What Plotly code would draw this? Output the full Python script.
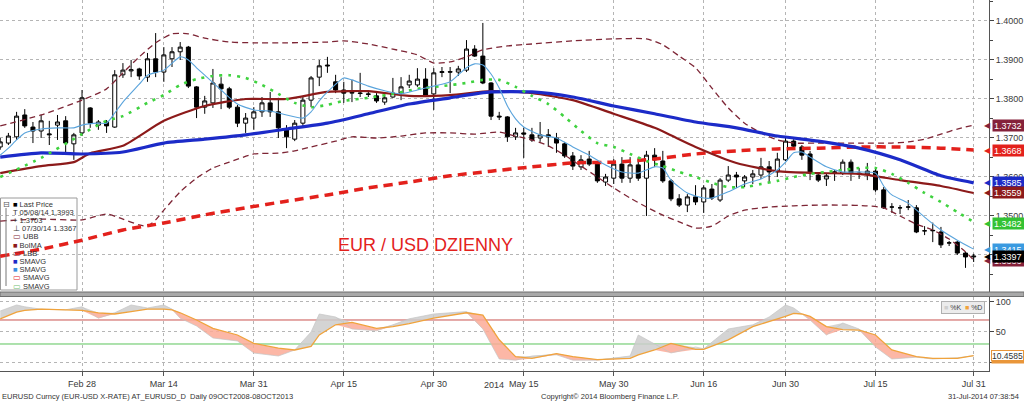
import pandas as pd
import plotly.graph_objects as go
from plotly.subplots import make_subplots

# ---------------- data ----------------
dates = pd.bdate_range("2014-02-14", "2014-07-31")  # 120 trading days

opens = [1.3677, 1.3687, 1.3703, 1.3759, 1.3728, 1.3718, 1.3708, 1.3733, 1.3744, 1.3685,
         1.3713, 1.3777, 1.3733, 1.3741, 1.3728, 1.3862, 1.3872, 1.3877, 1.3856, 1.3903,
         1.3869, 1.3903, 1.3921, 1.3933, 1.3831, 1.3779, 1.3790, 1.3838, 1.3826, 1.3779,
         1.3738, 1.3751, 1.3767, 1.3790, 1.3767, 1.3721, 1.3697, 1.3738, 1.3797, 1.3856,
         1.3887, 1.3844, 1.3823, 1.3815, 1.3814, 1.3813, 1.3808, 1.3792, 1.3805, 1.3815,
         1.3836, 1.3836, 1.3851, 1.3813, 1.3868, 1.3870, 1.3869, 1.3874, 1.3928, 1.3910,
         1.3841, 1.3756, 1.3754, 1.3703, 1.3713, 1.3708, 1.3700, 1.3708, 1.3700, 1.3685,
         1.3654, 1.3626, 1.3646, 1.3633, 1.3587, 1.3597, 1.3633, 1.3597, 1.3631, 1.3597,
         1.3656, 1.3641, 1.3590, 1.3544, 1.3528, 1.3549, 1.3536, 1.3569, 1.3541, 1.3592,
         1.3605, 1.3590, 1.3600, 1.3605, 1.3626, 1.3613, 1.3644, 1.3692, 1.3677, 1.3659,
         1.3605, 1.3595, 1.3610, 1.3610, 1.3638, 1.3610, 1.3608, 1.3615, 1.3567, 1.3523,
         1.3521, 1.3523, 1.3521, 1.3462, 1.3462, 1.3459, 1.3431, 1.3433, 1.3405, 1.3395]
highs = [1.3700, 1.3713, 1.3767, 1.3774, 1.3741, 1.3759, 1.3744, 1.3759, 1.3756, 1.3713,
         1.3823, 1.3779, 1.3746, 1.3746, 1.3874, 1.3892, 1.3900, 1.3880, 1.3918, 1.3969,
         1.3933, 1.3933, 1.3946, 1.3936, 1.3833, 1.3808, 1.3877, 1.3856, 1.3831, 1.3785,
         1.3764, 1.3779, 1.3805, 1.3818, 1.3803, 1.3733, 1.3746, 1.3805, 1.3859, 1.3900,
         1.3908, 1.3862, 1.3844, 1.3849, 1.3867, 1.3820, 1.3815, 1.3815, 1.3854, 1.3856,
         1.3862, 1.3879, 1.3879, 1.3879, 1.3882, 1.3882, 1.3885, 1.3951, 1.3938, 1.3995,
         1.3843, 1.3767, 1.3756, 1.3726, 1.3726, 1.3726, 1.3741, 1.3723, 1.3713, 1.3690,
         1.3664, 1.3656, 1.3667, 1.3636, 1.3608, 1.3646, 1.3651, 1.3651, 1.3651, 1.3667,
         1.3674, 1.3667, 1.3595, 1.3556, 1.3556, 1.3579, 1.3579, 1.3582, 1.3597, 1.3628,
         1.3613, 1.3605, 1.3618, 1.3649, 1.3641, 1.3662, 1.3700, 1.3697, 1.3682, 1.3667,
         1.3610, 1.3610, 1.3618, 1.3645, 1.3645, 1.3623, 1.3636, 1.3620, 1.3574, 1.3533,
         1.3528, 1.3541, 1.3528, 1.3474, 1.3483, 1.3472, 1.3436, 1.3436, 1.3408, 1.3403]
lows = [1.3670, 1.3682, 1.3695, 1.3726, 1.3687, 1.3700, 1.3682, 1.3695, 1.3662, 1.3644,
        1.3705, 1.3726, 1.3721, 1.3713, 1.3726, 1.3854, 1.3856, 1.3849, 1.3844, 1.3856,
        1.3844, 1.3882, 1.3900, 1.3828, 1.3751, 1.3762, 1.3777, 1.3774, 1.3774, 1.3728,
        1.3713, 1.3721, 1.3754, 1.3754, 1.3700, 1.3674, 1.3692, 1.3728, 1.3779, 1.3833,
        1.3867, 1.3815, 1.3790, 1.3792, 1.3805, 1.3805, 1.3790, 1.3785, 1.3803, 1.3797,
        1.3828, 1.3831, 1.3805, 1.3772, 1.3856, 1.3815, 1.3859, 1.3869, 1.3908, 1.3838,
        1.3746, 1.3746, 1.3690, 1.3695, 1.3649, 1.3690, 1.3690, 1.3677, 1.3662, 1.3649,
        1.3618, 1.3618, 1.3628, 1.3585, 1.3577, 1.3582, 1.3585, 1.3585, 1.3590, 1.3500,
        1.3626, 1.3585, 1.3538, 1.3523, 1.3510, 1.3528, 1.3508, 1.3541, 1.3536, 1.3587,
        1.3572, 1.3574, 1.3582, 1.3595, 1.3587, 1.3600, 1.3641, 1.3674, 1.3644, 1.3592,
        1.3587, 1.3577, 1.3590, 1.3605, 1.3590, 1.3595, 1.3592, 1.3562, 1.3518, 1.3508,
        1.3505, 1.3515, 1.3456, 1.3451, 1.3433, 1.3418, 1.3423, 1.3400, 1.3367, 1.3382]
closes = [1.3690, 1.3705, 1.3756, 1.3731, 1.3718, 1.3744, 1.3710, 1.3741, 1.3687, 1.3708,
          1.3803, 1.3738, 1.3741, 1.3731, 1.3862, 1.3874, 1.3875, 1.3859, 1.3903, 1.3869,
          1.3913, 1.3921, 1.3933, 1.3833, 1.3779, 1.3795, 1.3841, 1.3826, 1.3779, 1.3738,
          1.3751, 1.3767, 1.3790, 1.3767, 1.3726, 1.3703, 1.3738, 1.3797, 1.3854, 1.3885,
          1.3885, 1.3823, 1.3815, 1.3817, 1.3815, 1.3812, 1.3795, 1.3803, 1.3815, 1.3831,
          1.3846, 1.3851, 1.3810, 1.3867, 1.3870, 1.3869, 1.3877, 1.3928, 1.3910, 1.3841,
          1.3756, 1.3754, 1.3703, 1.3713, 1.3710, 1.3695, 1.3708, 1.3703, 1.3687, 1.3654,
          1.3628, 1.3644, 1.3633, 1.3590, 1.3600, 1.3633, 1.3597, 1.3631, 1.3597, 1.3656,
          1.3644, 1.3590, 1.3544, 1.3528, 1.3549, 1.3536, 1.3572, 1.3546, 1.3592, 1.3605,
          1.3600, 1.3600, 1.3608, 1.3626, 1.3613, 1.3646, 1.3692, 1.3679, 1.3656, 1.3610,
          1.3592, 1.3603, 1.3613, 1.3638, 1.3610, 1.3608, 1.3615, 1.3567, 1.3521, 1.3523,
          1.3521, 1.3523, 1.3459, 1.3462, 1.3463, 1.3426, 1.3431, 1.3405, 1.3395, 1.3397]

# moving averages (day index -> value)
sma200_idx = [0, 5, 10, 15, 20, 25, 30, 35, 40, 45, 50, 55, 60, 65, 70, 75, 80, 85, 90, 95,
              100, 105, 110, 115, 119]
sma200 = [1.3397, 1.3415, 1.3438, 1.3464, 1.3482, 1.3503, 1.3521, 1.3538, 1.3554, 1.3572,
          1.3587, 1.3603, 1.3615, 1.3626, 1.3636, 1.3638, 1.3646, 1.3659, 1.3667, 1.3672,
          1.3674, 1.3677, 1.3677, 1.3674, 1.3669]

sma50_idx = sma200_idx
sma50 = [1.3651, 1.3662, 1.3659, 1.3664, 1.3687, 1.3697, 1.3708, 1.3723, 1.3738, 1.3762,
         1.3787, 1.3803, 1.3818, 1.3818, 1.3805, 1.3782, 1.3762, 1.3741, 1.3726, 1.3705,
         1.3692, 1.3674, 1.3644, 1.3603, 1.3585]

bolma_idx = [0, 5, 9, 11, 15, 20, 25, 30, 35, 40, 45, 50, 55, 60, 65, 70, 75, 80, 85, 90,
             95, 100, 105, 110, 115, 119]
bolma = [1.3610, 1.3628, 1.3638, 1.3661, 1.3680, 1.3744, 1.3782, 1.3800, 1.3800, 1.3818,
         1.3820, 1.3808, 1.3810, 1.3820, 1.3815, 1.3797, 1.3762, 1.3726, 1.3677, 1.3636,
         1.3615, 1.3610, 1.3608, 1.3592, 1.3577, 1.3559]

ubb_idx = [0, 5, 10, 13, 15, 17, 19, 21, 23, 25, 28, 31, 35, 40, 42, 45, 48, 51, 53, 55,
           57, 59, 62, 65, 70, 75, 79, 81, 83, 85, 87, 89, 91, 93, 95, 97, 100, 105, 109, 111,
           113, 115, 117, 119]
ubb = [1.3731, 1.3759, 1.3797, 1.3826, 1.3867, 1.3908, 1.3944, 1.3967, 1.3967, 1.3956,
       1.3946, 1.3944, 1.3944, 1.3946, 1.3949, 1.3941, 1.3928, 1.3913, 1.3892, 1.3895,
       1.3908, 1.3926, 1.3936, 1.3941, 1.3949, 1.3954, 1.3954, 1.3939, 1.3910, 1.3880,
       1.3828, 1.3777, 1.3738, 1.3713, 1.3695, 1.3687, 1.3687, 1.3687, 1.3687, 1.3690,
       1.3697, 1.3710, 1.3723, 1.3733]

lbb_idx = [0, 5, 10, 13, 15, 17, 18, 19, 20, 22, 24, 26, 28, 31, 34, 36, 38, 41, 43, 46,
           49, 52, 55, 58, 61, 63, 65, 67, 69, 71, 73, 75, 77, 79, 81, 83, 85, 87, 89, 91,
           94, 97, 100, 103, 106, 108, 110, 112, 114, 116, 118, 119]
lbb = [1.3487, 1.3492, 1.3490, 1.3505, 1.3492, 1.3477, 1.3474, 1.3490, 1.3515, 1.3562,
       1.3597, 1.3623, 1.3638, 1.3659, 1.3661, 1.3667, 1.3677, 1.3692, 1.3703, 1.3700,
       1.3705, 1.3713, 1.3713, 1.3710, 1.3715, 1.3705, 1.3695, 1.3680, 1.3656, 1.3628,
       1.3600, 1.3572, 1.3546, 1.3523, 1.3502, 1.3485, 1.3469, 1.3474, 1.3500, 1.3515,
       1.3523, 1.3526, 1.3528, 1.3528, 1.3526, 1.3521, 1.3500, 1.3479, 1.3464, 1.3441,
       1.3408, 1.3387]

smag_idx = [0, 5, 10, 13, 15, 18, 20, 22, 24, 26, 28, 30, 32, 34, 36, 38, 40, 42, 45, 48,
            51, 54, 57, 59, 61, 63, 65, 67, 69, 71, 73, 75, 77, 79, 81, 83, 85, 87, 89, 91,
            93, 95, 97, 99, 101, 103, 105, 107, 109, 111, 113, 115, 117, 119]
smag = [1.3600, 1.3649, 1.3710, 1.3744, 1.3756, 1.3790, 1.3810, 1.3836, 1.3851, 1.3859,
        1.3861, 1.3854, 1.3836, 1.3813, 1.3790, 1.3779, 1.3785, 1.3795, 1.3803, 1.3813,
        1.3826, 1.3833, 1.3841, 1.3849, 1.3849, 1.3831, 1.3808, 1.3787, 1.3754, 1.3718,
        1.3687, 1.3677, 1.3659, 1.3641, 1.3628, 1.3613, 1.3600, 1.3585, 1.3574, 1.3574,
        1.3582, 1.3590, 1.3600, 1.3608, 1.3613, 1.3618, 1.3623, 1.3623, 1.3608, 1.3585,
        1.3559, 1.3536, 1.3510, 1.3485]

sma5_idx = [0, 1, 2, 3, 5, 7, 9, 10, 12, 13, 14, 15, 17, 18, 20, 22, 23, 24, 25, 27,
            29, 31, 33, 35, 37, 38, 39, 40, 42, 43, 45, 47, 49, 51, 53, 55, 57, 58, 59, 60,
            61, 62, 63, 64, 66, 68, 70, 72, 74, 76, 78, 80, 81, 82, 84, 86, 87, 89, 91, 93,
            95, 96, 97, 98, 99, 101, 103, 105, 107, 108, 109, 111, 113, 115, 117, 119]
sma5 = [1.3656, 1.3674, 1.3695, 1.3713, 1.3723, 1.3726, 1.3726, 1.3733, 1.3738, 1.3738,
        1.3764, 1.3792, 1.3838, 1.3861, 1.3874, 1.3908, 1.3900, 1.3880, 1.3861, 1.3823,
        1.3787, 1.3772, 1.3769, 1.3759, 1.3751, 1.3767, 1.3795, 1.3818, 1.3854, 1.3849,
        1.3833, 1.3821, 1.3813, 1.3823, 1.3833, 1.3844, 1.3880, 1.3890, 1.3887, 1.3864,
        1.3828, 1.3782, 1.3749, 1.3728, 1.3708, 1.3700, 1.3677, 1.3656, 1.3631, 1.3613,
        1.3610, 1.3626, 1.3623, 1.3592, 1.3559, 1.3546, 1.3546, 1.3562, 1.3582, 1.3595,
        1.3618, 1.3638, 1.3662, 1.3664, 1.3651, 1.3626, 1.3613, 1.3613, 1.3610, 1.3577,
        1.3554, 1.3533, 1.3497, 1.3464, 1.3438, 1.3415]

# stochastics
stoch_idx = [0, 2, 3, 5, 8, 10, 12, 14, 16, 18, 20, 21, 22, 24, 26, 29, 31, 34, 36, 38,
             39, 41, 43, 46, 48, 50, 53, 55, 57, 59, 61, 63, 65, 68, 70, 73, 77, 78, 80, 82,
             85, 86, 89, 92, 94, 96, 97, 98, 99, 101, 103, 105, 107, 109, 112, 114, 117, 119]
stoch_d = [72, 83, 86, 88, 87, 86, 82, 80, 84, 88, 88, 87, 82, 70, 56, 45, 31, 23, 20, 26,
           45, 62, 66, 56, 59, 64, 73, 78, 82, 78, 37, 9, 6, 14, 9, 4, 6, 12, 20, 31,
           21, 21, 37, 59, 67, 76, 81, 80, 76, 59, 54, 53, 45, 20, 9, 6, 6, 10.4585]
stoch_k = [85, 95, 92, 88, 87, 92, 73, 82, 95, 90, 95, 88, 73, 60, 40, 35, 15, 10, 20, 50,
           80, 75, 55, 52, 62, 72, 80, 82, 84, 55, 5, 3, 10, 12, 3, 3, 10, 45, 30, 15,
           25, 22, 55, 62, 75, 95, 90, 80, 70, 45, 65, 55, 25, 5, 8, 5, 7, 10.4585]
stoch_levels = [70, 30]

tick_dates = ["2014-02-28", "2014-03-14", "2014-03-31", "2014-04-15", "2014-04-30",
              "2014-05-15", "2014-05-30", "2014-06-16", "2014-06-30", "2014-07-15",
              "2014-07-31"]
tick_labels = ["Feb 28", "Mar 14", "Mar 31", "Apr 15", "Apr 30", "May 15", "May 30",
               "Jun 16", "Jun 30", "Jul 15", "Jul 31"]
price_ticks = [1.33, 1.34, 1.35, 1.36, 1.37, 1.38, 1.39, 1.40]

tag_values = [1.3732, 1.3668, 1.3585, 1.3559, 1.3482, 1.3386, 1.3415, 1.3397]
stoch_tag_values = [6.0, 10.4585]

# ---------------- figure ----------------
W, H = 1024, 401
ML, MR, MT, MB = 0, 35, 0, 30
PH = H - MT - MB          # plot-area height in px
PW = W - ML - MR


def py(px):
    return (PH - px) / PH


def pxx(px):
    return px / PW


FONT = "Liberation Sans"

fig = make_subplots(rows=2, cols=1, shared_xaxes=True, vertical_spacing=0)


def d(idx):
    return [dates[i] for i in idx]


fig.add_trace(go.Candlestick(
    x=dates, open=opens, high=highs, low=lows, close=closes,
    increasing=dict(line=dict(color="black", width=1), fillcolor="white"),
    decreasing=dict(line=dict(color="black", width=1), fillcolor="black"),
    whiskerwidth=0, showlegend=False), row=1, col=1)

line_specs = [
    (ubb_idx, ubb, dict(color="#7d2535", width=1.3, dash="6px,4px")),
    (lbb_idx, lbb, dict(color="#7d2535", width=1.3, dash="6px,4px")),
    (sma200_idx, sma200, dict(color="#e3211c", width=3.5, dash="9px,6px")),
    (bolma_idx, bolma, dict(color="#8c1a1a", width=2.2)),
    (sma50_idx, sma50, dict(color="#1c2bc8", width=3.2)),
    (smag_idx, smag, dict(color="#3fd23f", width=2.6, dash="3px,6px")),
    (sma5_idx, sma5, dict(color="#5aa4dc", width=1.1)),
]
for idx, vals, ln in line_specs:
    fig.add_trace(go.Scatter(x=d(idx), y=vals, mode="lines",
                             line=dict(shape="spline", smoothing=0.6, **ln),
                             showlegend=False, hoverinfo="skip"), row=1, col=1)

# stochastic panel: fills between %K and %D
kd_hi = [max(k, dd) for k, dd in zip(stoch_k, stoch_d)]
kd_lo = [min(k, dd) for k, dd in zip(stoch_k, stoch_d)]
sx = d(stoch_idx)
fig.add_trace(go.Scatter(x=sx, y=stoch_d, mode="lines", line=dict(width=0),
                         showlegend=False, hoverinfo="skip"), row=2, col=1)
fig.add_trace(go.Scatter(x=sx, y=kd_hi, mode="lines", line=dict(width=0),
                         fill="tonexty", fillcolor="rgba(205,205,205,0.85)",
                         showlegend=False, hoverinfo="skip"), row=2, col=1)
fig.add_trace(go.Scatter(x=sx, y=stoch_d, mode="lines", line=dict(width=0),
                         showlegend=False, hoverinfo="skip"), row=2, col=1)
fig.add_trace(go.Scatter(x=sx, y=kd_lo, mode="lines", line=dict(width=0),
                         fill="tonexty", fillcolor="rgba(252,170,150,0.85)",
                         showlegend=False, hoverinfo="skip"), row=2, col=1)
fig.add_trace(go.Scatter(x=sx, y=stoch_k, mode="lines",
                         line=dict(color="#c4c4c4", width=0.7),
                         showlegend=False, hoverinfo="skip"), row=2, col=1)
fig.add_trace(go.Scatter(x=sx, y=stoch_d, mode="lines",
                         line=dict(color="#f0a33c", width=1.3),
                         showlegend=False, hoverinfo="skip"), row=2, col=1)

xrange = ["2014-02-13 23:20", "2014-08-01 21:00"]
grid = dict(showgrid=True, gridcolor="#b5b5b5", griddash="dot", gridwidth=1)
xcommon = dict(range=xrange, rangebreaks=[dict(bounds=["sat", "mon"])],
               tickvals=tick_dates, ticktext=tick_labels, automargin=False, **grid)

fig.update_layout(
    width=W, height=H, margin=dict(l=ML, r=MR, t=MT, b=MB, autoexpand=False),
    paper_bgcolor="white", plot_bgcolor="white", showlegend=False,
    font=dict(family=FONT, size=9, color="#333333"),
    xaxis=dict(showticklabels=False, ticks="", rangeslider=dict(visible=False),
               **xcommon),
    xaxis2=dict(showticklabels=True, ticks="outside", ticklen=4, tickcolor="#555",
                showline=True, linecolor="#555", linewidth=1,
                tickfont=dict(size=9, color="#3a3a3a", family=FONT),
                rangeslider=dict(visible=False), **xcommon),
    yaxis=dict(domain=[py(292), 1], side="right", range=[1.33051, 1.40538],
               tickvals=price_ticks, tickformat=".4f", ticks="outside", ticklen=4,
               tickcolor="#444", showline=True, linecolor="#555", linewidth=1,
               zeroline=False, automargin=False,
               tickfont=dict(size=9, color="#3a3a3a", family=FONT),
               minor=dict(tick0=1.33, dtick=0.005, ticks="outside", ticklen=3,
                          tickcolor="#444", showgrid=False),
               **grid),
    yaxis2=dict(domain=[0, py(297)], side="right", range=[-15, 108.3],
                tickvals=[0, 50, 100], ticktext=["", "50", "100"], ticks="outside",
                ticklen=4, tickcolor="#444", showline=True, linecolor="#555",
                linewidth=1, zeroline=False, automargin=False,
                tickfont=dict(size=9, color="#3a3a3a", family=FONT), **grid),
)

shapes = []
# panel separator
shapes.append(dict(type="rect", xref="paper", yref="paper", x0=0, x1=W / PW,
                   y0=py(296.5), y1=py(292), fillcolor="#a9a9a9",
                   line=dict(color="#6f6f6f", width=1), layer="above"))
# stochastic reference levels
lvl_colors = ["#c9534f", "#5cc45c"]
for lv, c in zip(stoch_levels, lvl_colors):
    shapes.append(dict(type="line", xref="x2 domain", x0=0, x1=1, yref="y2",
                       y0=lv, y1=lv, line=dict(color=c, width=1), layer="below"))
# legend box
shapes.append(dict(type="rect", xref="paper", yref="paper", x0=pxx(0.5), x1=pxx(77),
                   y0=py(290), y1=py(198), fillcolor="rgba(255,255,255,0.92)",
                   line=dict(color="#9a9a9a", width=1), layer="below"))
shapes.append(dict(type="line", xref="paper", yref="paper", x0=pxx(6), x1=pxx(6),
                   y0=py(286), y1=py(208), line=dict(color="#777", width=1),
                   layer="above"))
fig.update_layout(shapes=shapes)

ann = []
legend_rows = [
    ("■", "#000000", "Last Price"),
    ("T", "#333333", "05/08/14 1.3993"),
    ("+", "#333333", "1.3703"),
    ("⊥", "#333333", "07/30/14 1.3367"),
    ("▭", "#7d2535", "UBB"),
    ("■", "#8c1a1a", "BolMA"),
    ("▭", "#7d2535", "LBB"),
    ("■", "#1c2bc8", "SMAVG"),
    ("■", "#3a8fe0", "SMAVG"),
    ("▭", "#e3211c", "SMAVG"),
    ("▭", "#6fbf6f", "SMAVG"),
]
for r, (sym, col, lab) in enumerate(legend_rows):
    ypx = 204 + r * 8.2
    ann.append(dict(x=pxx(11), y=py(ypx), xref="paper", yref="paper",
                    xanchor="left", yanchor="middle", showarrow=False,
                    text=f"<span style='color:{col}'>{sym}</span> {lab}",
                    font=dict(size=7.5, color="#333", family=FONT)))
ann.append(dict(x=pxx(6), y=py(204), xref="paper", yref="paper", xanchor="center",
                yanchor="middle", showarrow=False, text="⊟",
                font=dict(size=8, color="#555", family="DejaVu Sans")))

ann.append(dict(x=pxx(425), y=py(245), xref="paper", yref="paper", showarrow=False,
                text="EUR / USD DZIENNY", xanchor="center", yanchor="middle",
                font=dict(size=18, color="#e3211c", family=FONT)))

# price tags on the right axis
tag_colors = ["#85213a", "#e3211c", "#1c2bc8", "#8c1a1a", "#33c233", "#85213a",
              "#3a9ae0", "#000000"]
for v, c in zip(tag_values, tag_colors):
    ann.append(dict(x=1, xref="paper", y=v, yref="y", xanchor="right", xshift=4,
                    yanchor="middle", showarrow=False, text="◀",
                    font=dict(size=8, color=c, family="DejaVu Sans")))
    ann.append(dict(x=1, xref="paper", y=v, yref="y", xanchor="left", xshift=3,
                    yanchor="middle", showarrow=False, text=f"{v:.4f}",
                    bgcolor=c, borderpad=1, width=30, height=9, align="left",
                    font=dict(size=9, color="white", family=FONT)))

# stochastic tags
ann.append(dict(x=1, xref="paper", y=stoch_tag_values[0], yref="y2", xanchor="left",
                xshift=2, yanchor="middle", showarrow=False, text=" ",
                bgcolor="#e9963a", width=31, height=8, borderpad=1))
ann.append(dict(x=1, xref="paper", y=stoch_tag_values[1], yref="y2", xanchor="left",
                xshift=2, yanchor="middle", showarrow=False,
                text=f"{stoch_tag_values[1]:.4f}", bgcolor="white",
                bordercolor="#e9963a", borderwidth=1, borderpad=0, width=31, height=9,
                align="left", font=dict(size=8.5, color="#333", family=FONT)))

# %K / %D mini legend
ann.append(dict(x=pxx(985), y=py(307), xref="paper", yref="paper", xanchor="right",
                yanchor="middle", showarrow=False,
                text="<span style='color:#cfcfcf'>■</span> %K  "
                     "<span style='color:#f0a33c'>■</span> %D",
                bgcolor="#ececec", bordercolor="#b0b0b0", borderwidth=1, borderpad=2,
                font=dict(size=7, color="#444", family=FONT)))

# year label and footer
ann.append(dict(x=pxx(494), y=py(385), xref="paper", yref="paper", showarrow=False,
                text="2014", xanchor="center", yanchor="middle",
                font=dict(size=9, color="#3a3a3a", family=FONT)))
ann.append(dict(x=0, y=py(396), xref="paper", yref="paper", showarrow=False,
                xanchor="left", yanchor="middle",
                text="EURUSD Curncy (EUR-USD X-RATE) AT_EURUSD_D  Daily 09OCT2008-08OCT2013",
                font=dict(size=7.5, color="#333", family=FONT)))
ann.append(dict(x=pxx(610), y=py(396), xref="paper", yref="paper", showarrow=False,
                xanchor="center", yanchor="middle",
                text="Copyright© 2014 Bloomberg Finance L.P.",
                font=dict(size=7.5, color="#333", family=FONT)))
ann.append(dict(x=pxx(1021), y=py(396), xref="paper", yref="paper", showarrow=False,
                xanchor="right", yanchor="middle", text="31-Jul-2014 07:38:54",
                font=dict(size=7.5, color="#333", family=FONT)))

fig.update_layout(annotations=ann)

fig.write_html("out.html",
               config={"displayModeBar": False},
               post_script="document.body.style.margin='0';"
                           "document.body.style.overflow='hidden';")
